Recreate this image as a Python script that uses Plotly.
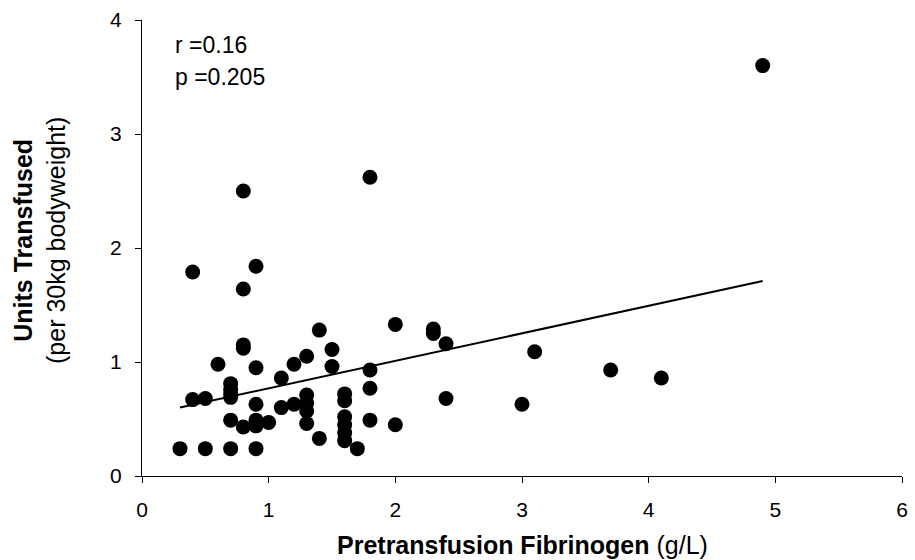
import plotly.graph_objects as go

# Pretransfusion fibrinogen (g/L)
fibrinogen = [0.3, 0.5, 0.7, 0.9, 0.4, 0.5, 0.6, 0.7, 0.7, 0.7, 0.7, 0.7,
              0.8, 0.8, 0.8, 0.9, 0.9, 0.9, 0.9, 1.0, 1.1, 1.1, 1.2, 1.2,
              1.3, 1.3, 1.3, 1.3, 1.3, 1.4, 1.4, 1.5, 1.5, 1.6, 1.6, 1.6,
              1.6, 1.6, 1.6, 1.7, 1.8, 1.8, 1.8, 2.0, 2.0, 2.3, 2.3, 2.4,
              2.4, 3.0, 3.1, 3.7, 4.1, 4.9, 0.8, 0.4, 0.9, 0.8, 1.8]
# Units transfused (per 30kg bodyweight)
units = [0.24, 0.24, 0.24, 0.24, 0.67, 0.68, 0.98, 0.81, 0.76, 0.72, 0.69, 0.49,
         1.15, 1.12, 0.43, 0.95, 0.63, 0.49, 0.44, 0.47, 0.86, 0.60, 0.98, 0.63,
         1.05, 0.71, 0.64, 0.57, 0.46, 1.28, 0.33, 1.11, 0.96, 0.72, 0.66, 0.52,
         0.45, 0.38, 0.31, 0.24, 0.93, 0.77, 0.49, 1.33, 0.45, 1.29, 1.25, 1.16,
         0.68, 0.63, 1.09, 0.93, 0.86, 3.60, 2.50, 1.79, 1.84, 1.64, 2.62]

trend_x = [0.3, 4.9]
trend_y = [0.60, 1.71]

x_ticks = [0, 1, 2, 3, 4, 5, 6]
y_ticks = [0, 1, 2, 3, 4]

stats_text = ["r =0.16", "p =0.205"]

FONT = "Liberation Sans, Arial, Helvetica, sans-serif"

fig = go.Figure()
fig.add_trace(go.Scatter(x=fibrinogen, y=units, mode="markers",
                         marker=dict(color="black", size=15, line=dict(width=0)),
                         showlegend=False, hoverinfo="x+y"))
fig.add_trace(go.Scatter(x=trend_x, y=trend_y, mode="lines",
                         line=dict(color="black", width=2),
                         showlegend=False, hoverinfo="skip"))

fig.update_layout(
    width=915, height=560,
    margin=dict(l=142, r=7, t=20, b=84),
    paper_bgcolor="white", plot_bgcolor="white",
    font=dict(family=FONT, color="black", size=20),
    xaxis=dict(range=[0, 6], tickvals=x_ticks, showgrid=False, zeroline=False,
               showline=True, linecolor="black", linewidth=1,
               ticks="outside", ticklen=6, tickcolor="black",
               tickfont=dict(size=21), ticklabelstandoff=9),
    yaxis=dict(range=[0, 4], tickvals=y_ticks, showgrid=False, zeroline=False,
               showline=True, linecolor="black", linewidth=1,
               ticks="outside", ticklen=6, tickcolor="black",
               tickfont=dict(size=21), ticklabelstandoff=9),
)

fig.add_annotation(text="<b>Pretransfusion Fibrinogen</b> (g/L)",
                   xref="paper", yref="paper", x=0.5, y=0, yshift=-69,
                   xanchor="center", yanchor="middle", showarrow=False,
                   font=dict(size=25, family=FONT))
fig.add_annotation(text="<b>Units Transfused</b><br>(per 30kg bodyweight)",
                   xref="paper", yref="paper", x=0, y=0.5, xshift=-103, yshift=7,
                   xanchor="center", yanchor="middle", textangle=-90,
                   showarrow=False, font=dict(size=25, family=FONT))
fig.add_annotation(text=stats_text[0], xref="paper", yref="paper",
                   x=0, y=1, xshift=31, yshift=-25, xanchor="left", yanchor="middle",
                   showarrow=False, font=dict(size=23, family=FONT))
fig.add_annotation(text=stats_text[1], xref="paper", yref="paper",
                   x=0, y=1, xshift=31, yshift=-57, xanchor="left", yanchor="middle",
                   showarrow=False, font=dict(size=23, family=FONT))

fig.write_html("out.html")
